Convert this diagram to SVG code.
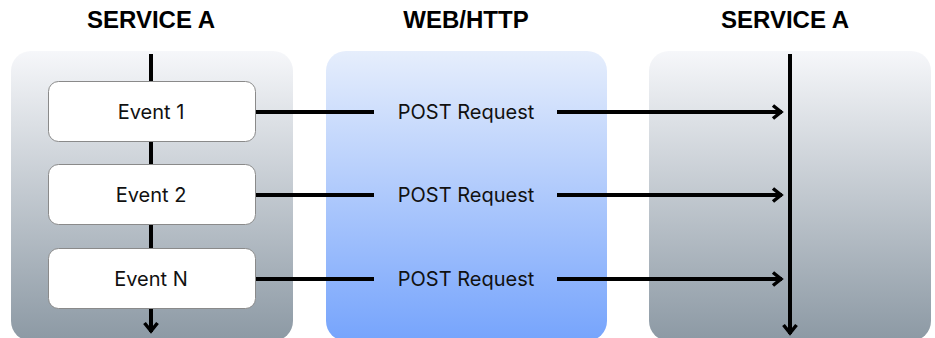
<svg xmlns="http://www.w3.org/2000/svg" width="935" height="338" viewBox="0 0 935 338">
<style>
.title{font-family:"Liberation Sans",Arial,sans-serif;font-weight:bold;font-size:24px;fill:#000;text-anchor:middle}
.lbl{font-family:Inter,"Liberation Sans",sans-serif;font-size:20px;fill:#111;text-anchor:middle}
.box{fill:#fff;stroke:#8a8a8a;stroke-width:1}
.wire{stroke:#000;stroke-width:4;fill:none}
</style>
<defs>
<linearGradient id="gGray" x1="0" y1="0" x2="0" y2="1">
<stop offset="0" stop-color="#f6f7fa"/>
<stop offset="1" stop-color="#8c99a4"/>
</linearGradient>
<linearGradient id="gBlue" x1="0" y1="0" x2="0" y2="1">
<stop offset="0" stop-color="#e6eefc"/>
<stop offset="1" stop-color="#76a4fc"/>
</linearGradient>
<marker id="arr" viewBox="0 0 16 16" refX="13" refY="8" markerWidth="16" markerHeight="16" markerUnits="userSpaceOnUse" orient="auto">
<path d="M4,1.5 L12,8 L4,14.5" fill="none" stroke="#000" stroke-width="3.5" stroke-linejoin="miter"/>
</marker>
</defs>
<g id="panel-service-a-left">
<rect x="11" y="51" width="282" height="290" rx="20" fill="url(#gGray)"/>
<text class="title" x="151" y="28">SERVICE A</text>
</g>
<g id="panel-web-http">
<rect x="326" y="51" width="281" height="290" rx="20" fill="url(#gBlue)"/>
<text class="title" x="466" y="28">WEB/HTTP</text>
</g>
<g id="panel-service-a-right">
<rect x="649" y="51" width="282" height="290" rx="20" fill="url(#gGray)"/>
<text class="title" x="785" y="28">SERVICE A</text>
</g>
<g id="connectors">
<line class="wire" x1="151" y1="54" x2="151" y2="332" marker-end="url(#arr)"/>
<line class="wire" x1="790" y1="54" x2="790" y2="334" marker-end="url(#arr)"/>
<line class="wire" x1="255" y1="112" x2="374" y2="112"/>
<line class="wire" x1="557" y1="112" x2="782" y2="112" marker-end="url(#arr)"/>
<line class="wire" x1="255" y1="195" x2="374" y2="195"/>
<line class="wire" x1="557" y1="195" x2="782" y2="195" marker-end="url(#arr)"/>
<line class="wire" x1="255" y1="279" x2="374" y2="279"/>
<line class="wire" x1="557" y1="279" x2="782" y2="279" marker-end="url(#arr)"/>
<text class="lbl" x="466" y="119">POST Request</text>
<text class="lbl" x="466" y="202">POST Request</text>
<text class="lbl" x="466" y="286">POST Request</text>
</g>
<g id="event-1">
<rect class="box" x="48.5" y="81.5" width="207" height="60" rx="10"/>
<text class="lbl" x="151" y="119">Event 1</text>
</g>
<g id="event-2">
<rect class="box" x="48.5" y="164.5" width="207" height="60" rx="10"/>
<text class="lbl" x="151" y="202">Event 2</text>
</g>
<g id="event-n">
<rect class="box" x="48.5" y="248.5" width="207" height="60" rx="10"/>
<text class="lbl" x="151" y="286">Event N</text>
</g>
</svg>
